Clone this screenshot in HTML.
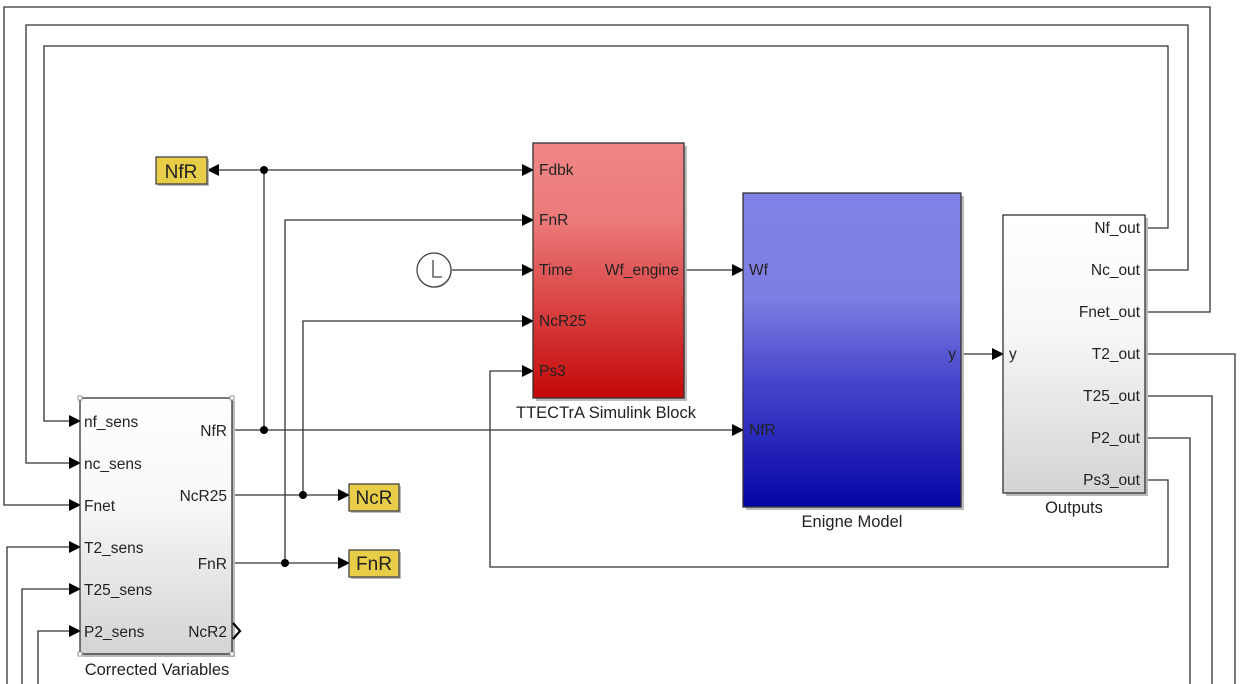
<!DOCTYPE html>
<html><head><style>
html,body{margin:0;padding:0;background:#fff;}
svg{display:block;}
text{font-family:"Liberation Sans",sans-serif;font-size:15.5px;fill:#222;}
.bn{font-size:16.5px;}
</style></head><body>
<svg width="1244" height="684" viewBox="0 0 1244 684" xmlns="http://www.w3.org/2000/svg">
<defs>
<linearGradient id="red" x1="0" y1="0" x2="0" y2="1">
<stop offset="0" stop-color="#f08585"/><stop offset="0.3" stop-color="#ec7a7a"/><stop offset="1" stop-color="#c40808"/></linearGradient>
<linearGradient id="blue" x1="0" y1="0" x2="0" y2="1">
<stop offset="0" stop-color="#8080e6"/><stop offset="0.33" stop-color="#7e7ee2"/><stop offset="0.6" stop-color="#4646cc"/><stop offset="1" stop-color="#0505a6"/></linearGradient>
<linearGradient id="gray" x1="0" y1="0" x2="0" y2="1">
<stop offset="0" stop-color="#ffffff"/><stop offset="0.4" stop-color="#f8f8f8"/><stop offset="1" stop-color="#d4d4d4"/></linearGradient>
<marker id="a" markerWidth="12" markerHeight="12" refX="11" refY="6" orient="auto" markerUnits="userSpaceOnUse"><path d="M0,0 L12,6 L0,12 z" fill="#000"/></marker>
</defs>
<g fill="none" stroke="#333" stroke-width="1.3">
<polyline points="1145,228 1168,228 1168,46 44,46 44,421 80,421" marker-end="url(#a)"/>
<polyline points="1145,270 1188,270 1188,25 26,25 26,463 80,463" marker-end="url(#a)"/>
<polyline points="1145,312 1210,312 1210,7 4,7 4,505 80,505" marker-end="url(#a)"/>
<polyline points="1145,354 1235,354 1235,684"/>
<polyline points="1145,396 1212,396 1212,684"/>
<polyline points="1145,438 1190,438 1190,684"/>
<polyline points="1145,480 1168,480 1168,567 490,567 490,371 533,371" marker-end="url(#a)"/>
<polyline points="7,684 7,547 80,547" marker-end="url(#a)"/>
<polyline points="22,684 22,589 80,589" marker-end="url(#a)"/>
<polyline points="38,684 38,631 80,631" marker-end="url(#a)"/>
<polyline points="232,430 743,430" marker-end="url(#a)"/>
<polyline points="264,430 264,170"/>
<polyline points="264,170 208,170" marker-end="url(#a)"/>
<polyline points="264,170 533,170" marker-end="url(#a)"/>
<polyline points="232,495 349,495" marker-end="url(#a)"/>
<polyline points="303,495 303,321 533,321" marker-end="url(#a)"/>
<polyline points="232,563 349,563" marker-end="url(#a)"/>
<polyline points="285,563 285,220 533,220" marker-end="url(#a)"/>
<polyline points="451,270 533,270" marker-end="url(#a)"/>
<polyline points="684,270 743,270" marker-end="url(#a)"/>
<polyline points="961,354 1003,354" marker-end="url(#a)"/>
</g>
<g fill="#000"><circle cx="264" cy="430" r="4"/><circle cx="264" cy="170" r="4"/><circle cx="303" cy="495" r="4"/><circle cx="285" cy="563" r="4"/></g>
<circle cx="435" cy="271" r="17" fill="#ccc"/>
<circle cx="434" cy="270" r="17" fill="#fff" stroke="#444" stroke-width="1.3"/>
<polyline points="433,260 433,277 442,277" fill="none" stroke="#444" stroke-width="1.3"/>
<g fill="#bbb"><rect x="536" y="146" width="151" height="255"/><rect x="746" y="196" width="218" height="314"/><rect x="1006" y="218" width="142" height="278"/><rect x="83" y="401" width="152" height="256"/></g>
<rect x="533" y="143" width="151" height="255" fill="url(#red)" stroke="#333" stroke-width="1.3"/>
<text x="539" y="175">Fdbk</text><text x="539" y="225">FnR</text><text x="539" y="275">Time</text>
<text x="539" y="326">NcR25</text><text x="539" y="376">Ps3</text>
<text x="679" y="275" text-anchor="end">Wf_engine</text>
<text class="bn" x="606" y="418" text-anchor="middle">TTECTrA Simulink Block</text>
<rect x="743" y="193" width="218" height="314" fill="url(#blue)" stroke="#333" stroke-width="1.3"/>
<text x="749" y="275">Wf</text><text x="749" y="435">NfR</text><text x="956" y="359" text-anchor="end">y</text>
<text class="bn" x="852" y="527" text-anchor="middle">Enigne Model</text>
<rect x="1003" y="215" width="142" height="278" fill="url(#gray)" stroke="#333" stroke-width="1.3"/>
<text x="1009" y="359">y</text>
<g text-anchor="end"><text x="1140" y="233">Nf_out</text><text x="1140" y="275">Nc_out</text><text x="1140" y="317">Fnet_out</text><text x="1140" y="359">T2_out</text><text x="1140" y="401">T25_out</text><text x="1140" y="443">P2_out</text><text x="1140" y="485">Ps3_out</text></g>
<text class="bn" x="1074" y="513" text-anchor="middle">Outputs</text>
<rect x="80" y="398" width="152" height="256" fill="url(#gray)" stroke="#333" stroke-width="1.3"/>
<g fill="#fff" stroke="#999" stroke-width="1"><rect x="78" y="396" width="4" height="4"/><rect x="230" y="396" width="4" height="4"/><rect x="78" y="652" width="4" height="4"/><rect x="230" y="652" width="4" height="4"/></g>
<text x="84" y="427">nf_sens</text><text x="84" y="469">nc_sens</text><text x="84" y="511">Fnet</text><text x="84" y="553">T2_sens</text><text x="84" y="595">T25_sens</text><text x="84" y="637">P2_sens</text>
<g text-anchor="end"><text x="227" y="436">NfR</text><text x="227" y="501">NcR25</text><text x="227" y="569">FnR</text><text x="227" y="637">NcR2</text></g>
<polyline points="233,623 240,631 233,639" fill="none" stroke="#000" stroke-width="2.2"/>
<text class="bn" x="157" y="675" text-anchor="middle">Corrected Variables</text>
<g fill="#bbb"><rect x="158" y="159" width="51" height="27"/><rect x="351" y="486" width="50" height="27"/><rect x="351" y="552" width="50" height="27"/></g>
<g stroke="#444" stroke-width="1.3" fill="#e8cd48">
<rect x="156" y="157" width="51" height="27"/><rect x="349" y="484" width="50" height="27"/><rect x="349" y="550" width="50" height="27"/></g>
<g text-anchor="middle"><text x="181" y="178" style="font-size:19px">NfR</text><text x="374" y="504" style="font-size:19px">NcR</text><text x="374" y="570" style="font-size:19px">FnR</text></g>
</svg>
</body></html>
